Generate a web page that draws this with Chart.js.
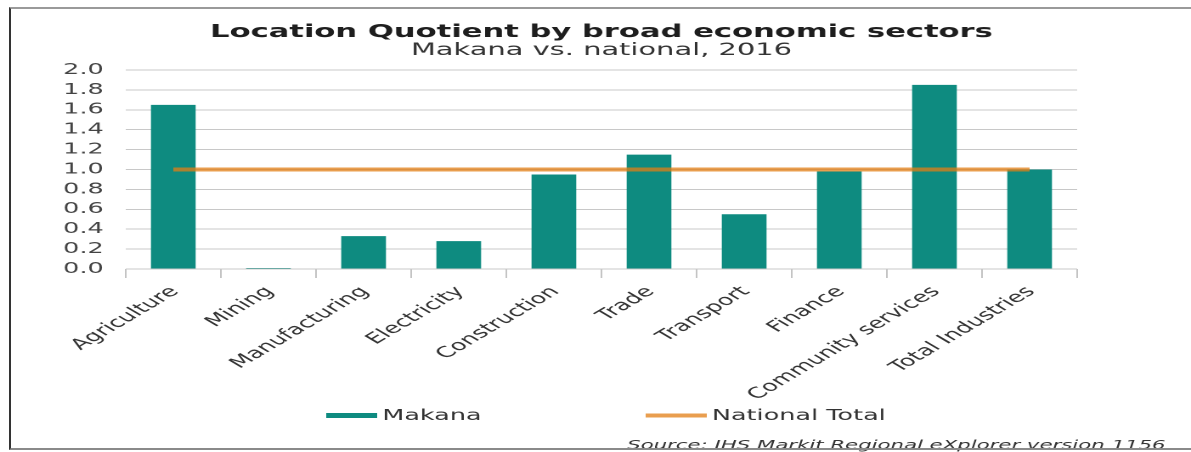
<!DOCTYPE html>
<html lang="en">
<head>
    <meta charset="UTF-8">
    <title>Location Quotient by broad economic sectors</title>
    <script src="https://cdn.jsdelivr.net/npm/chart.js"></script>
    <style>
        body {
            margin: 0;
            background: #fff;
            overflow: hidden;
        }

        .frame {
            position: relative;
            width: 1191px;
            height: 452px;
        }

        /* the chart is laid out narrow and stretched sideways, like the exported picture */
        .stretch {
            position: absolute;
            left: 0;
            top: 0;
            width: 701px;
            height: 452px;
            transform: scaleX(1.699);
            transform-origin: 0 0;
        }

        .border {
            position: absolute;
            left: 9px;
            top: 7px;
            right: -4px;
            height: 439px;
            border-left: 2px solid #333;
            border-top: 2px solid #9a9a9a;
            border-bottom: 2px solid #8a8a8a;
            pointer-events: none;
        }
    </style>
</head>
<body>
    <div class="frame">
        <div class="stretch">
            <canvas id="lq-chart" width="701" height="452" style="width:701px;height:452px"></canvas>
        </div>
        <div class="border"></div>
    </div>

    <script>
        const sectors = ['Agriculture', 'Mining', 'Manufacturing', 'Electricity', 'Construction',
                         'Trade', 'Transport', 'Finance', 'Community services', 'Total Industries'];
        const makanaLQ = [1.65, 0.01, 0.33, 0.28, 0.95, 1.15, 0.55, 0.98, 1.85, 1.00];
        const nationalLQ = [1, 1, 1, 1, 1, 1, 1, 1, 1, 1];
        const yMin = 0;
        const yMax = 2;
        const yStep = 0.2;

        const titleText = 'Location Quotient by broad economic sectors';
        const subtitleText = 'Makana vs. national, 2016';
        const sourceText = 'Source: IHS Markit Regional eXplorer version 1156';

        const FONT = '"DejaVu Sans", Verdana, sans-serif';

        // title, legend and source line, drawn by hand to sit over the plot centre
        const frameText = {
            id: 'frameText',
            afterDraw(chart) {
                const { ctx, chartArea } = chart;
                const cx = (chartArea.left + chartArea.right) / 2;
                ctx.save();

                ctx.textAlign = 'center';
                ctx.textBaseline = 'alphabetic';
                ctx.fillStyle = '#1e1e1e';
                ctx.font = `bold 18px ${FONT}`;
                ctx.fillText(titleText, cx, 37);
                ctx.fillStyle = '#333';
                ctx.font = `17px ${FONT}`;
                ctx.fillText(subtitleText, cx, 55);

                // legend
                const bars = chart.data.datasets[0];
                const line = chart.data.datasets[1];
                ctx.font = `15px ${FONT}`;
                ctx.textAlign = 'left';
                ctx.fillStyle = bars.backgroundColor;
                ctx.fillRect(192, 413, 30, 5);
                ctx.fillStyle = '#333';
                ctx.fillText(bars.label, 225, 420);

                ctx.strokeStyle = line.borderColor;
                ctx.lineWidth = 4;
                ctx.beginPath();
                ctx.moveTo(380, 415.5);
                ctx.lineTo(416, 415.5);
                ctx.stroke();
                ctx.fillStyle = '#333';
                ctx.fillText(line.label, 419, 420);

                // source, its foot runs under the frame line
                ctx.textAlign = 'right';
                ctx.font = `italic 12.5px ${FONT}`;
                ctx.fillStyle = '#333';
                ctx.fillText(sourceText, 686, 449);

                ctx.restore();
            }
        };

        new Chart(document.getElementById('lq-chart'), {
            data: {
                labels: sectors,
                datasets: [
                    {
                        type: 'bar',
                        label: 'Makana',
                        data: makanaLQ,
                        backgroundColor: '#0e8b80',
                        categoryPercentage: 1,
                        barPercentage: 0.47,
                        order: 1
                    },
                    {
                        type: 'line',
                        label: 'National Total',
                        data: nationalLQ,
                        borderColor: 'rgba(225, 125, 20, 0.75)',
                        borderWidth: 4,
                        pointRadius: 0,
                        fill: false,
                        order: 0
                    }
                ]
            },
            options: {
                responsive: false,
                animation: false,
                devicePixelRatio: 2,
                layout: {
                    padding: { top: 70, left: 0, right: 67, bottom: 0 }
                },
                plugins: {
                    legend: { display: false },
                    title: { display: false },
                    tooltip: { enabled: false }
                },
                scales: {
                    x: {
                        afterFit: (scale) => { scale.height = 183; },
                        border: { display: false },
                        grid: {
                            offset: true,
                            drawOnChartArea: false,
                            drawTicks: true,
                            tickLength: 9,
                            color: '#c4c4c4'
                        },
                        ticks: {
                            autoSkip: false,
                            minRotation: 45,
                            maxRotation: 45,
                            padding: 5,
                            labelOffset: 1,
                            color: '#333',
                            font: { family: FONT, size: 15 }
                        }
                    },
                    y: {
                        min: yMin,
                        max: yMax,
                        afterFit: (scale) => { scale.width = 74; },
                        border: { display: false },
                        grid: {
                            drawTicks: false,
                            color: '#c8c8c8',
                            lineWidth: 1
                        },
                        ticks: {
                            stepSize: yStep,
                            autoSkip: false,
                            maxTicksLimit: 11,
                            padding: 13,
                            color: '#444',
                            font: { family: FONT, size: 15, lineHeight: 1 },
                            callback: (v) => Number(v).toFixed(1)
                        }
                    }
                }
            },
            plugins: [frameText]
        });
    </script>
</body>
</html>
